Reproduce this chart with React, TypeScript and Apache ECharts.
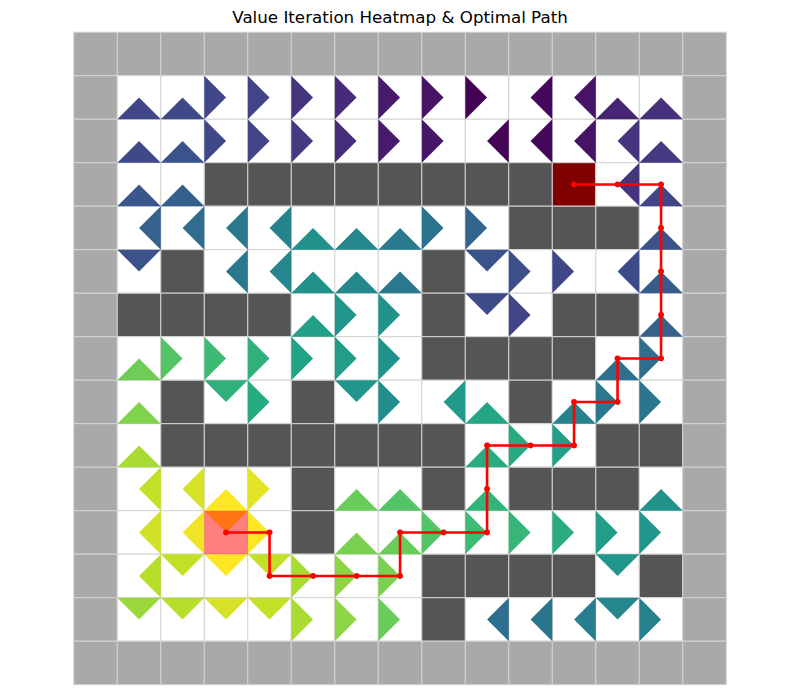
import React, { useEffect, useRef } from 'react';
import * as echarts from 'echarts';

const titleText = 'Value Iteration Heatmap & Optimal Path';

// '#' outer wall, 'W' inner wall, '.' free, 'G' goal, 'S' start
const gridMap: string[] = [
  '###############',
  '#.............#',
  '#.............#',
  '#..WWWWWWWWG..#',
  '#.........WWW.#',
  '#.W.....W.....#',
  '#WWWW...W..WW.#',
  '#.......WWWW..#',
  '#.W..W....W...#',
  '#.WWWWWWW...WW#',
  '#....W..W.WWW.#',
  '#..S.W........#',
  '#.......WWWW.W#',
  '#.......W.....#',
  '###############',
];

// direction each triangle points: U, D, L, R ; '-' none
const policy: string[] = [
  '---------------',
  '-UURRRRRRRLLUU-',
  '-UURRRRRRLLLLU-',
  '-UU---------LU-',
  '-LLLLUUURR---U-',
  '-D-LLUUU-DRRLU-',
  '-----URR-DR--U-',
  '-URRRRRR----UR-',
  '-U-DR-DRLU-URR-',
  '-U-------URR---',
  '-LLUR-UU-U---U-',
  '-LLDR-UURRRRRR-',
  '-LDDDRRR----D--',
  '-DDDDRRR-LLLDR-',
  '---------------',
];

const values: number[][] = [
  [0, 0, 0, 0, 0, 0, 0, 0, 0, 0, 0, 0, 0, 0, 0],
  [0, 0.21, 0.22, 0.21, 0.2, 0.15, 0.12, 0.07, 0.05, 0.0, 0.02, 0.05, 0.1, 0.14, 0],
  [0, 0.22, 0.26, 0.22, 0.2, 0.17, 0.13, 0.07, 0.06, 0.01, 0.02, 0.05, 0.15, 0.17, 0],
  [0, 0.27, 0.3, 0, 0, 0, 0, 0, 0, 0, 0, 0, 0.15, 0.2, 0],
  [0, 0.31, 0.35, 0.4, 0.44, 0.5, 0.46, 0.41, 0.38, 0.32, 0, 0, 0, 0.25, 0],
  [0, 0.25, 0, 0.4, 0.46, 0.5, 0.47, 0.4, 0, 0.26, 0.24, 0.21, 0.23, 0.29, 0],
  [0, 0, 0, 0, 0, 0.56, 0.52, 0.51, 0, 0.23, 0.2, 0, 0, 0.31, 0],
  [0, 0.78, 0.73, 0.68, 0.64, 0.58, 0.55, 0.5, 0, 0, 0, 0, 0.37, 0.36, 0],
  [0, 0.81, 0, 0.64, 0.61, 0, 0.52, 0.48, 0.54, 0.59, 0, 0.44, 0.4, 0.39, 0],
  [0, 0.87, 0, 0, 0, 0, 0, 0, 0, 0.62, 0.61, 0.56, 0, 0, 0],
  [0, 0.91, 0.94, 1.0, 0.96, 0, 0.77, 0.73, 0, 0.65, 0, 0, 0, 0.51, 0],
  [0, 0.93, 0.98, 1.0, 1.0, 0, 0.8, 0.77, 0.73, 0.68, 0.66, 0.62, 0.55, 0.52, 0],
  [0, 0.89, 0.91, 1.0, 0.91, 0.87, 0.83, 0.8, 0, 0, 0, 0, 0.52, 0, 0],
  [0, 0.85, 0.89, 0.94, 0.91, 0.87, 0.83, 0.77, 0, 0.36, 0.39, 0.42, 0.46, 0.44, 0],
  [0, 0, 0, 0, 0, 0, 0, 0, 0, 0, 0, 0, 0, 0, 0],
];

// optimal path as [col, row] from start to goal
const pathCells: [number, number][] = [
  [3, 11], [4, 11], [4, 12], [5, 12], [6, 12], [7, 12], [7, 11], [8, 11], [9, 11],
  [9, 10], [9, 9], [10, 9], [11, 9], [11, 8], [12, 8], [12, 7], [13, 7], [13, 6],
  [13, 5], [13, 4], [13, 3], [12, 3], [11, 3],
];

const viridis = [
  '#440154', '#482475', '#414487', '#355f8d', '#2a788e', '#21918c',
  '#22a884', '#44bf70', '#7ad151', '#bddf26', '#fde725',
];

const dirCodes: Record<string, number> = { U: 0, D: 1, L: 2, R: 3 };

export default function App() {
  const ref = useRef<HTMLDivElement>(null);
  useEffect(() => {
    document.body.style.margin = '0';
    const chart = echarts.init(ref.current!, null, { renderer: 'svg' });

    const cellData: number[][] = [];
    const triData: number[][] = [];
    let start: number[] = [0, 0];
    gridMap.forEach((row, r) => {
      for (let c = 0; c < row.length; c++) {
        const ch = row[c];
        const code = ch === '#' ? 0 : ch === 'W' ? 1 : ch === 'G' ? 3 : 2;
        cellData.push([c, r, code]);
        if (ch === 'S') start = [c, r];
        const d = policy[r][c];
        if (d in dirCodes) triData.push([c, r, values[r][c], dirCodes[d]]);
      }
    });
    const cellFill = ['#a9a9a9', '#555555', '#ffffff', '#800000'];

    chart.setOption({
      animation: false,
      title: {
        text: titleText,
        left: 'center',
        top: 8,
        padding: 0,
        textStyle: { fontFamily: 'DejaVu Sans', fontSize: 16.7, fontWeight: 'normal', color: '#000' },
      },
      grid: { left: 73.8, top: 32.2, width: 652.5, height: 652.5 },
      xAxis: { type: 'value', min: 0, max: 15, show: false },
      yAxis: { type: 'value', min: 0, max: 15, inverse: true, show: false },
      visualMap: {
        show: false,
        type: 'continuous',
        min: 0,
        max: 1,
        dimension: 2,
        seriesIndex: 1,
        inRange: { color: viridis },
      },
      series: [
        {
          type: 'custom',
          z: 1,
          silent: true,
          data: cellData,
          encode: { x: 0, y: 1 },
          renderItem: (params: any, api: any) => {
            const c = api.value(0), r = api.value(1), code = api.value(2);
            const p0 = api.coord([c, r]);
            const p1 = api.coord([c + 1, r + 1]);
            return {
              type: 'rect',
              shape: { x: p0[0], y: p0[1], width: p1[0] - p0[0], height: p1[1] - p0[1] },
              style: { fill: cellFill[code], stroke: '#d3d3d3', lineWidth: 1 },
            };
          },
        },
        {
          type: 'custom',
          z: 2,
          silent: true,
          data: triData,
          encode: { x: 0, y: 1 },
          renderItem: (params: any, api: any) => {
            const c = api.value(0), r = api.value(1), d = api.value(3);
            const tl = api.coord([c, r]);
            const tr = api.coord([c + 1, r]);
            const bl = api.coord([c, r + 1]);
            const br = api.coord([c + 1, r + 1]);
            const ct = api.coord([c + 0.5, r + 0.5]);
            let pts;
            if (d === 0) pts = [bl, br, ct];
            else if (d === 1) pts = [tl, tr, ct];
            else if (d === 2) pts = [tr, br, ct];
            else pts = [tl, bl, ct];
            return {
              type: 'polygon',
              shape: { points: pts },
              style: { fill: api.visual('color') },
            };
          },
        },
        {
          type: 'custom',
          z: 3,
          silent: true,
          data: [start],
          encode: { x: 0, y: 1 },
          renderItem: (params: any, api: any) => {
            const c = api.value(0), r = api.value(1);
            const p0 = api.coord([c, r]);
            const p1 = api.coord([c + 1, r + 1]);
            return {
              type: 'rect',
              shape: { x: p0[0], y: p0[1], width: p1[0] - p0[0], height: p1[1] - p0[1] },
              style: { fill: 'rgba(255,0,0,0.5)' },
            };
          },
        },
        {
          type: 'line',
          z: 4,
          silent: true,
          data: pathCells.map(([c, r]) => [c + 0.5, r + 0.5]),
          symbol: 'circle',
          symbolSize: 6,
          lineStyle: { color: '#ff0000', width: 2.6 },
          itemStyle: { color: '#ff0000' },
        },
      ],
    });
    return () => chart.dispose();
  }, []);
  return <div ref={ref} style={{ position: 'absolute', left: 0, top: 0, width: 800, height: 697 }} />;
}
